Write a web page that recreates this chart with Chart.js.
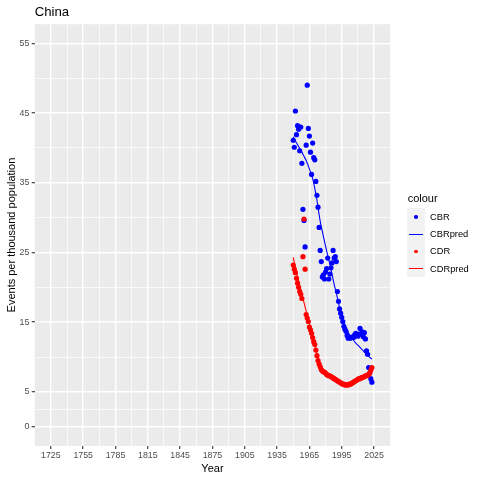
<!DOCTYPE html>
<html><head><meta charset="utf-8">
<script src="https://cdn.jsdelivr.net/npm/chart.js@4.4.1/dist/chart.umd.min.js"></script>
<style>
html,body{margin:0;padding:0;background:#fff;}
#wrap{position:relative;width:480px;height:480px;overflow:hidden;}
#c{position:absolute;left:0;top:0;}
.lg{position:absolute;font-family:"Liberation Sans",Arial,sans-serif;color:#000;white-space:nowrap;line-height:1;}
</style></head><body>
<div id="wrap"><canvas id="c" width="480" height="480"></canvas><div id="legend"></div></div>
<script>
const years = [1950,1951,1952,1953,1954,1955,1956,1957,1958,1959,1960,1961,1962,1963,1964,1965,1966,1967,1968,1969,
  1970,1971,1972,1973,1974,1975,1976,1977,1978,1979,1980,1981,1982,1983,1984,1985,1986,1987,1988,1989,
  1990,1991,1992,1993,1994,1995,1996,1997,1998,1999,2000,2001,2002,2003,2004,2005,2006,2007,2008,2009,
  2010,2011,2012,2013,2014,2015,2016,2017,2018,2019,2020,2021,2022,2023];
const cbr = [41.1,40.1,45.3,41.9,43.2,42.7,39.6,43.0,37.8,31.2,29.6,25.8,40.4,49.0,42.8,41.7,39.4,36.2,40.7,38.6,
  38.3,35.2,33.2,31.5,28.6,25.3,23.7,21.5,21.8,21.2,22.2,22.7,24.2,21.2,21.9,22.8,23.5,25.3,24.2,24.4,
  23.7,19.4,18.0,16.9,16.3,15.7,15.1,14.4,14.0,13.7,13.1,12.7,12.8,12.7,12.8,12.9,12.8,13.2,13.4,13.2,
  13.0,13.3,14.1,13.3,13.6,12.9,13.5,12.6,10.9,10.4,8.5,7.7,6.9,6.4];
const cdr = [23.2,22.6,22.1,21.3,20.6,20.0,19.4,19.0,18.4,24.4,29.8,22.6,16.1,15.6,15.1,14.3,13.9,13.4,12.8,12.2,
  11.8,11.0,10.2,9.5,9.0,8.6,8.2,8.0,7.9,7.8,7.7,7.5,7.4,7.3,7.3,7.2,7.1,7.0,6.9,6.8,
  6.7,6.6,6.5,6.4,6.3,6.2,6.1,6.1,6.0,6.0,6.0,6.0,6.1,6.1,6.2,6.3,6.4,6.5,6.6,6.7,
  6.8,6.9,6.9,7.0,7.1,7.1,7.2,7.3,7.3,7.4,7.5,7.7,8.1,8.5];
const predYears = [1950,1952,1955,1958,1960,1962,1965,1968,1970,1972,1975,1978,1980,1982,1985,1988,1990,1992,1995,1998,
  2000,2003,2005,2008,2010,2013,2015,2018,2020,2023];
const cbrPred = [41.6,41.0,40.2,39.4,38.8,38.2,37.0,35.6,34.2,32.5,29.5,27.3,25.9,24.6,22.6,20.4,19.2,17.7,16.0,14.5,
  13.8,13.0,12.6,12.0,11.7,11.2,10.9,10.4,10.1,9.7];
const cdrPred = [24.3,22.8,20.9,19.0,17.8,16.6,14.8,13.0,11.8,10.5,9.1,8.1,7.7,7.5,7.2,6.9,6.7,6.5,6.3,6.1,
  6.05,6.1,6.3,6.5,6.7,6.9,7.1,7.3,7.5,8.0];
const xMajorTicks = [1725,1755,1785,1815,1845,1875,1905,1935,1965,1995,2025];
const xMinorTicks = [1740,1770,1800,1830,1860,1890,1920,1950,1980,2010];
const yMajorTicks = [0,5,15,25,35,45,55];
const yMinorTicks = [2.5,10,20,30,40,50];
const seriesNames = ['CBR','CBRpred','CDR','CDRpred'];
const seriesColors = ['#0000FF','#0000FF','#FF0000','#FF0000'];
const titleText = 'China';
const xTitle = 'Year';
const yTitle = 'Events per thousand population';
const legendTitle = 'colour';

const FONT = '"Liberation Sans", Arial, sans-serif';
const pts = (xs, ys) => xs.map((x, i) => ({x: x, y: ys[i]}));

const bgPlugin = {
  id: 'panelBg',
  beforeDraw(chart) {
    const a = chart.chartArea, ctx = chart.ctx;
    ctx.save();
    ctx.fillStyle = '#EBEBEB';
    ctx.fillRect(a.left, a.top, a.right - a.left, a.bottom - a.top);
    ctx.restore();
  }
};

function tickSetup(major, minor) {
  return function(scale) {
    scale.ticks = major.concat(minor).sort((a, b) => a - b).map(v => ({value: v, major: major.includes(v)}));
  };
}
const isMajorX = v => xMajorTicks.includes(v);
const isMajorY = v => yMajorTicks.includes(v);

new Chart(document.getElementById('c'), {
  type: 'scatter',
  data: {
    datasets: [
      {label: seriesNames[0], data: pts(years, cbr), showLine: false, pointRadius: 2.6, pointHoverRadius: 2.6,
       backgroundColor: seriesColors[0], borderColor: seriesColors[0], borderWidth: 0, order: 4},
      {label: seriesNames[1], data: pts(predYears, cbrPred), showLine: true, pointRadius: 0, pointHoverRadius: 0,
       borderColor: seriesColors[1], borderWidth: 1.1, tension: 0.3, fill: false, order: 3},
      {label: seriesNames[2], data: pts(years, cdr), showLine: false, pointRadius: 2.6, pointHoverRadius: 2.6,
       backgroundColor: seriesColors[2], borderColor: seriesColors[2], borderWidth: 0, order: 2},
      {label: seriesNames[3], data: pts(predYears, cdrPred), showLine: true, pointRadius: 0, pointHoverRadius: 0,
       borderColor: seriesColors[3], borderWidth: 1.1, tension: 0.3, fill: false, order: 1}
    ]
  },
  options: {
    responsive: false,
    animation: false,
    devicePixelRatio: 1,
    layout: {padding: {left: 0, right: 89.8, top: 0, bottom: 0}},
    plugins: {
      legend: {display: false},
      tooltip: {enabled: false},
      title: {display: true, text: titleText, align: 'start', fullSize: false, color: '#000',
        font: {family: FONT, size: 13.2, weight: 'normal', lineHeight: 1.2}, padding: {top: 4.6, bottom: 3.8}}
    },
    scales: {
      x: {
        type: 'linear', min: 1710, max: 2040,
        afterBuildTicks: tickSetup(xMajorTicks, xMinorTicks),
        afterFit: s => { s.height = 34.1; },
        border: {display: false},
        grid: {
          color: '#FFFFFF',
          lineWidth: c => (c.tick && isMajorX(c.tick.value)) ? 1.4 : 0.7,
          drawTicks: true, tickLength: 3, tickWidth: 1.1,
          tickColor: c => (c.tick && isMajorX(c.tick.value)) ? '#333333' : 'rgba(0,0,0,0)'
        },
        ticks: {
          autoSkip: false, maxRotation: 0, minRotation: 0, padding: 1.8, color: '#4D4D4D',
          font: {family: FONT, size: 8.8, lineHeight: 1.2},
          callback: v => isMajorX(v) ? String(v) : ''
        },
        title: {display: true, text: xTitle, color: '#000', font: {family: FONT, size: 11, lineHeight: 1.2},
          padding: {top: 0, bottom: 4.4}}
      },
      y: {
        type: 'linear', min: -2.75, max: 57.75,
        afterBuildTicks: tickSetup(yMajorTicks, yMinorTicks),
        afterFit: s => { s.width = 34.7; },
        border: {display: false},
        grid: {
          color: '#FFFFFF',
          lineWidth: c => (c.tick && isMajorY(c.tick.value)) ? 1.4 : 0.7,
          drawTicks: true, tickLength: 3, tickWidth: 1.1,
          tickColor: c => (c.tick && isMajorY(c.tick.value)) ? '#333333' : 'rgba(0,0,0,0)'
        },
        ticks: {
          autoSkip: false, padding: 2.4, color: '#4D4D4D',
          font: {family: FONT, size: 8.8, lineHeight: 1.2},
          callback: v => isMajorY(v) ? String(v) : ''
        },
        title: {display: true, text: yTitle, color: '#000', font: {family: FONT, size: 11, lineHeight: 1.2},
          padding: {top: 4.9, bottom: 0}}
      }
    }
  },
  plugins: [bgPlugin]
});

// legend (HTML, real text)
(function() {
  const lg = document.getElementById('legend');
  const add = (html) => { lg.insertAdjacentHTML('beforeend', html); };
  add('<div class="lg" style="left:407.7px;top:193px;font-size:11px;">' + legendTitle + '</div>');
  add('<div class="lg" style="left:407.3px;top:208.3px;width:17.3px;height:69.2px;background:#F2F2F2;"></div>');
  seriesNames.forEach((name, i) => {
    const cy = 208.3 + 17.3 * i + 8.65;
    if (i % 2 === 0) {
      add('<div class="lg" style="left:' + (415.95 - 1.7) + 'px;top:' + (cy - 1.7) + 'px;width:3.4px;height:3.4px;border-radius:50%;background:' + seriesColors[i] + ';"></div>');
    } else {
      add('<div class="lg" style="left:408.6px;top:' + (cy - 0.55) + 'px;width:14.7px;height:1.1px;background:' + seriesColors[i] + ';"></div>');
    }
    add('<div class="lg" style="left:430px;top:' + (cy - 5.2) + 'px;font-size:9.3px;line-height:10.4px;">' + name + '</div>');
  });
})();
</script>
</body></html>
